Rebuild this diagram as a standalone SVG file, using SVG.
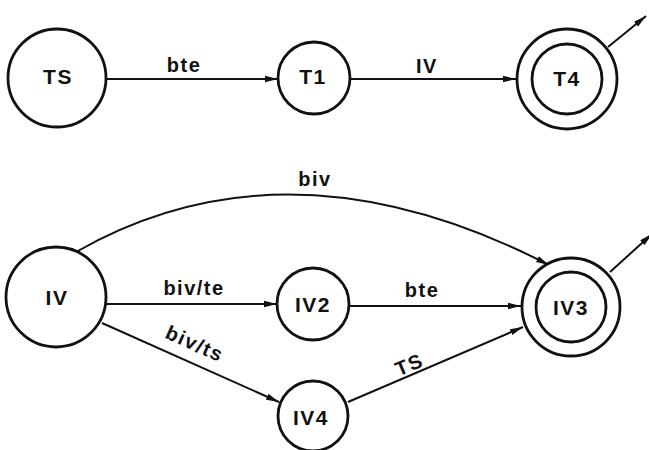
<svg xmlns="http://www.w3.org/2000/svg" width="649" height="450" viewBox="0 0 649 450">
  <style>
    .st { fill: #fff; stroke: #111; stroke-width: 2.8; }
    .ln { fill: none; stroke: #111; stroke-width: 2; marker-end: url(#ah); }
    .nt { font-family: "Liberation Sans", Arial, sans-serif; font-weight: bold; font-size: 21px; fill: #111; text-anchor: middle; letter-spacing: 1.5px; }
    .lb { font-family: "Liberation Sans", Arial, sans-serif; font-weight: bold; font-size: 20px; fill: #111; text-anchor: middle; letter-spacing: 1.5px; }
  </style>
  <defs>
    <marker id="ah" markerUnits="userSpaceOnUse" markerWidth="14" markerHeight="8" refX="13" refY="4" orient="auto">
      <path d="M0,0.8 L13,4 L0,7.2 z" fill="#111"/>
    </marker>
  </defs>
  <rect width="649" height="450" fill="#fff"/>

  <g id="connectors">
    <line class="ln" x1="107" y1="79" x2="278" y2="79"/>
    <line class="ln" x1="350" y1="79" x2="516" y2="79"/>
    <line class="ln" x1="608" y1="47" x2="646" y2="16"/>
    <path class="ln" d="M76,252 Q288,131 549,265"/>
    <line class="ln" x1="106" y1="304" x2="277" y2="304"/>
    <line class="ln" x1="348" y1="306" x2="521" y2="306"/>
    <line class="ln" x1="102" y1="323" x2="279" y2="402"/>
    <line class="ln" x1="348" y1="402" x2="523" y2="327"/>
    <line class="ln" x1="610" y1="272" x2="652" y2="234"/>
    <text class="lb" x="184" y="72">bte</text>
    <text class="lb" x="427" y="73">IV</text>
    <text class="lb" x="315" y="186">biv</text>
    <text class="lb" x="194" y="295">biv/te</text>
    <text class="lb" x="422" y="297">bte</text>
    <text class="lb" transform="translate(192,350) rotate(24)">biv/ts</text>
    <text class="lb" transform="translate(412,371) rotate(-23)">TS</text>
  </g>

  <g id="TS">
    <circle class="st" cx="57" cy="78" r="49"/>
    <text class="nt" x="58" y="84">TS</text>
  </g>
  <g id="T1">
    <circle class="st" cx="314" cy="78" r="36"/>
    <text class="nt" x="313" y="84">T1</text>
  </g>
  <g id="T4">
    <circle class="st" cx="567" cy="79" r="50"/>
    <circle class="st" cx="567" cy="79" r="35"/>
    <text class="nt" x="567" y="86">T4</text>
  </g>
  <g id="IV">
    <circle class="st" cx="56" cy="297" r="50"/>
    <text class="nt" x="57" y="305">IV</text>
  </g>
  <g id="IV2">
    <circle class="st" cx="313" cy="304" r="36"/>
    <text class="nt" x="313" y="312">IV2</text>
  </g>
  <g id="IV3">
    <circle class="st" cx="571" cy="307" r="49"/>
    <circle class="st" cx="571" cy="307" r="35"/>
    <text class="nt" x="571" y="315">IV3</text>
  </g>
  <g id="IV4">
    <circle class="st" cx="313" cy="416" r="35"/>
    <text class="nt" x="311" y="425">IV4</text>
  </g>
</svg>
